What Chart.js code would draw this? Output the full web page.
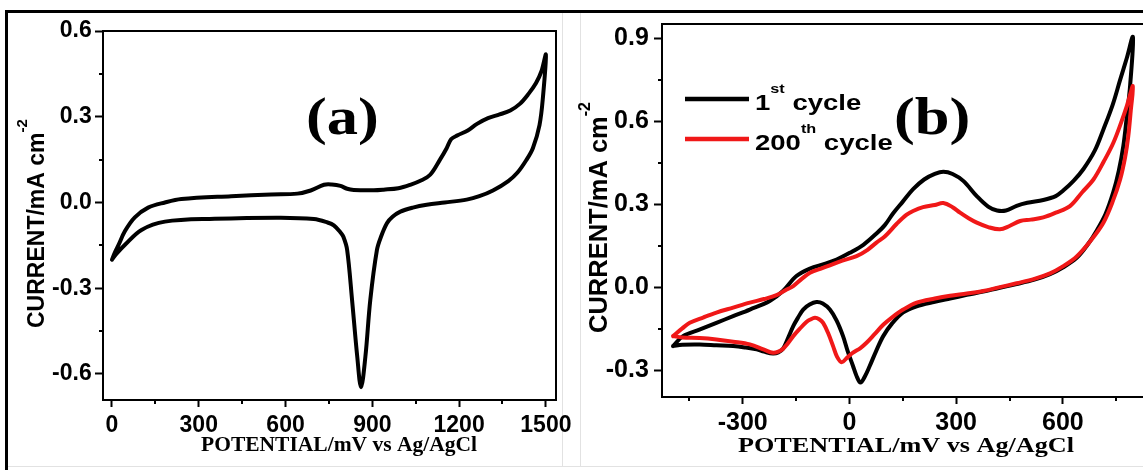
<!DOCTYPE html>
<html>
<head>
<meta charset="utf-8">
<script src="https://cdn.jsdelivr.net/npm/chart.js@4.4.1/dist/chart.umd.min.js"></script>
<style>
  html, body { margin: 0; padding: 0; background: #fff; }
  body { width: 1143px; height: 470px; overflow: hidden; position: relative; }
  canvas { position: absolute; top: 0; }
  #cv-a { left: 0; }
  #cv-b { left: 575px; }
  .rule  { position: absolute; background: #000; }
  .faint { position: absolute; background: #e2e2e2; }
</style>
</head>
<body>
<div class="rule"  style="left:5px;top:10px;width:1138px;height:3px"></div>
<div class="rule"  style="left:5px;top:10px;width:3px;height:460px"></div>
<div class="faint" style="left:562px;top:13px;width:1px;height:453px"></div>
<div class="faint" style="left:580px;top:13px;width:1px;height:453px"></div>
<div class="faint" style="left:8px;top:466px;width:1135px;height:1px"></div>
<canvas id="cv-a" width="580" height="470"></canvas>
<canvas id="cv-b" width="600" height="470"></canvas>
<script>
// ── Data ─────────────────────────────────────────────────────────────────────
const SANS  = '"Liberation Sans", Arial, sans-serif';
const SERIF = '"Liberation Serif", "Times New Roman", serif';

// (a) one CV loop: forward scan 0 → 1500 mV, then back to 0
const potA = [0, 10, 22, 45, 79, 125, 183, 240, 412, 550, 641, 687, 733, 760, 790, 813, 836, 905, 939, 990,
  1031, 1070, 1100, 1134, 1157, 1173, 1195, 1230, 1262, 1300, 1340, 1377, 1410, 1440, 1466, 1485, 1500,
  1490, 1478, 1455, 1432, 1402, 1370, 1317, 1270, 1226, 1150, 1088, 1040, 997, 970, 951, 930, 916, 893, 876, 861,
  848, 830, 813, 800, 790, 767, 745, 698, 584, 355, 183, 102, 45, 15, 0];
const curA = [-0.2, -0.175, -0.15, -0.1, -0.052, -0.018, 0.0, 0.012, 0.022, 0.028, 0.031, 0.042, 0.062, 0.063, 0.058, 0.048, 0.044, 0.043, 0.045, 0.05,
  0.062, 0.078, 0.097, 0.15, 0.19, 0.222, 0.235, 0.252, 0.275, 0.295, 0.308, 0.322, 0.345, 0.38, 0.418, 0.46, 0.517,
  0.37, 0.271, 0.19, 0.148, 0.105, 0.075, 0.042, 0.022, 0.01, 0.0, -0.008, -0.018, -0.032, -0.05, -0.072, -0.12, -0.166, -0.341, -0.54, -0.646,
  -0.54, -0.341, -0.166, -0.12, -0.105, -0.08, -0.07, -0.058, -0.053, -0.057, -0.067, -0.096, -0.148, -0.18, -0.2];

// (b) 1st cycle
const potB1 = [-496, -468, -420, -374, -327, -280, -224, -187, -149, -111, -70, -36, 1, 40, 76, 100, 123, 150, 179, 210,
  240, 264, 290, 320, 358, 390, 415, 440, 470, 500, 545, 580, 601, 630, 658, 690, 714, 740, 761, 780, 797,
  789, 780, 770, 757, 742, 720, 695, 670, 639, 600, 564, 520, 470, 420, 376, 330, 283, 240, 189, 151,
  120, 95, 75, 57, 44, 31, 20, 10, -5, -18, -36, -55, -75, -93, -112, -130, -145, -158, -175, -187,
  -200, -215, -240, -261, -294, -327, -374, -421, -470, -496];
const curB1 = [-0.212, -0.176, -0.152, -0.128, -0.104, -0.08, -0.049, -0.013, 0.041, 0.068, 0.085, 0.101, 0.125, 0.155, 0.195, 0.226, 0.268, 0.31, 0.355, 0.39,
  0.41, 0.418, 0.41, 0.385, 0.33, 0.292, 0.278, 0.278, 0.295, 0.306, 0.316, 0.33, 0.35, 0.385, 0.428, 0.495, 0.571, 0.66, 0.75, 0.83, 0.905,
  0.728, 0.62, 0.511, 0.42, 0.345, 0.265, 0.205, 0.155, 0.107, 0.072, 0.048, 0.028, 0.012, -0.002, -0.015, -0.027, -0.04, -0.052, -0.068, -0.09,
  -0.13, -0.176, -0.23, -0.284, -0.32, -0.344, -0.32, -0.284, -0.23, -0.176, -0.12, -0.08, -0.058, -0.053, -0.062, -0.08, -0.11, -0.14, -0.19, -0.222,
  -0.235, -0.239, -0.232, -0.224, -0.217, -0.212, -0.209, -0.206, -0.207, -0.212];

// (b) 200th cycle
const potB200 = [-496, -470, -449, -410, -374, -327, -280, -240, -205, -180, -158, -135, -111, -80, -55, -20, 20, 50, 76, 100,
  133, 160, 179, 207, 240, 264, 290, 311, 335, 358, 390, 423, 450, 480, 510, 545, 580, 620, 655, 686, 715, 742, 765, 780, 797,
  791, 784, 775, 761, 740, 714, 680, 639, 600, 564, 520, 470, 420, 376, 330, 283, 240, 189, 151, 120,
  95, 70, 48, 30, 10, -5, -22, -35, -46, -60, -74, -85, -97, -110, -121, -140, -158, -175, -187, -200,
  -215, -240, -280, -327, -374, -421, -470, -496];
const curB200 = [-0.176, -0.148, -0.128, -0.108, -0.091, -0.073, -0.055, -0.042, -0.028, -0.01, 0.005, 0.03, 0.053, 0.068, 0.08, 0.097, 0.113, 0.135, 0.162, 0.185,
  0.23, 0.262, 0.276, 0.29, 0.298, 0.305, 0.29, 0.27, 0.25, 0.234, 0.218, 0.21, 0.222, 0.24, 0.245, 0.253, 0.27, 0.294, 0.345, 0.39, 0.455, 0.523, 0.6, 0.656, 0.728,
  0.64, 0.547, 0.47, 0.39, 0.31, 0.234, 0.172, 0.112, 0.076, 0.051, 0.031, 0.015, 0.0, -0.013, -0.022, -0.03, -0.04, -0.055, -0.08, -0.108,
  -0.135, -0.17, -0.2, -0.22, -0.236, -0.252, -0.27, -0.25, -0.212, -0.165, -0.128, -0.115, -0.11, -0.116, -0.125, -0.15, -0.176, -0.205, -0.222, -0.232,
  -0.236, -0.225, -0.206, -0.196, -0.188, -0.183, -0.181, -0.176];

const xTicksA = [0, 300, 600, 900, 1200, 1500];
const xMinorA = [150, 450, 750, 1050, 1350];
const yTicksA = [-0.6, -0.3, 0, 0.3, 0.6];
const yMinorA = [-0.45, -0.15, 0.15, 0.45];

const xTicksB = [-300, 0, 300, 600];
const xMinorB = [-450, -150, 150, 450, 750];
const yTicksB = [-0.3, 0, 0.3, 0.6, 0.9];
const yMinorB = [-0.15, 0.15, 0.45, 0.75];

const cycleNum = ['1', '200'];
const cycleSup = ['st', 'th'];
const cycleCol = ['#000000', '#f01818'];

const xTitle = 'POTENTIAL/mV vs Ag/AgCl';
const yTitle = 'CURRENT/mA cm';

// ── Helpers ──────────────────────────────────────────────────────────────────
const pts = (xs, ys) => xs.map((x, i) => ({ x, y: ys[i] }));

// draws a run of text pieces (for superscripts); rise lifts a piece off the baseline
function richText(ctx, parts, x, y, { angle = 0, sx = 1, align = 'left' } = {}) {
  ctx.save();
  ctx.translate(x, y);
  ctx.rotate(angle);
  ctx.scale(sx, 1);
  ctx.fillStyle = '#000';
  ctx.textBaseline = 'alphabetic';
  ctx.textAlign = 'left';
  let w = 0;
  parts.forEach(p => { ctx.font = p.font; w += ctx.measureText(p.text).width; });
  let cx = align === 'center' ? -w / 2 : 0;
  parts.forEach(p => {
    ctx.font = p.font;
    ctx.fillText(p.text, cx, -(p.rise || 0));
    cx += ctx.measureText(p.text).width;
  });
  ctx.restore();
}

function axis(min, max, ticks, fmt, size, fit, isX, pad) {
  return {
    type: 'linear', min, max, bounds: 'data',
    afterBuildTicks: s => { s.ticks = ticks.map(v => ({ value: v })); },
    afterFit: s => { if (isX) s.height = fit; else s.width = fit; },
    grid: { drawOnChartArea: false, drawTicks: true, tickLength: isX ? 7 : 8, tickWidth: 2, tickColor: '#000' },
    border: { display: true, color: '#000', width: 2 },
    ticks: { color: '#000', padding: pad, maxRotation: 0, autoSkip: false,
             font: { family: SANS, size, weight: 'bold' }, callback: fmt }
  };
}

// frame top/right edges, short minor ticks and the free text of each panel
function decor(xMinor, yMinor, drawText) {
  return {
    id: 'decor',
    afterDraw(chart) {
      const { ctx, chartArea: a, scales: { x, y } } = chart;
      ctx.save();
      ctx.strokeStyle = '#000';
      ctx.lineWidth = 2;
      ctx.beginPath();
      ctx.moveTo(a.left, a.top); ctx.lineTo(a.right, a.top); ctx.lineTo(a.right, a.bottom);
      ctx.stroke();
      ctx.beginPath();
      xMinor.forEach(v => { const px = Math.round(x.getPixelForValue(v)); ctx.moveTo(px, a.bottom); ctx.lineTo(px, a.bottom + 4); });
      yMinor.forEach(v => { const py = Math.round(y.getPixelForValue(v)); ctx.moveTo(a.left, py); ctx.lineTo(a.left - 4, py); });
      ctx.stroke();
      ctx.restore();
      drawText(ctx, chart);
    }
  };
}

const fmtX = v => String(v);
const fmtY = v => v.toFixed(1);
const line = (label, data, color, order) => ({
  label, data, order, showLine: true, borderColor: color, borderWidth: 4,
  pointRadius: 0, tension: 0.35, borderJoinStyle: 'round', borderCapStyle: 'round', fill: false
});
const base = { responsive: false, devicePixelRatio: 1, animation: false, events: [],
               plugins: { legend: { display: false }, tooltip: { enabled: false } } };

// ── Panel (a) ────────────────────────────────────────────────────────────────
new Chart(document.getElementById('cv-a'), {
  type: 'scatter',
  data: { datasets: [line('a', pts(potA, curA), '#000', 0)] },
  options: {
    ...base,
    layout: { padding: { left: 0, top: 31, right: 24, bottom: 10 } },
    scales: {
      x: axis(-31, 1535, xTicksA, fmtX, 23, 60, true, 4.5),
      y: axis(-0.691, 0.6, yTicksA, fmtY, 23, 103, false, 3.3)
    }
  },
  plugins: [decor(xMinorA, yMinorA, ctx => {
    richText(ctx, [{ text: yTitle, font: `bold 23px ${SANS}` },
                   { text: '-2', font: `bold 15px ${SANS}`, rise: 17 }], 44, 328, { angle: -Math.PI / 2 });
    richText(ctx, [{ text: xTitle, font: `bold 21.5px ${SERIF}` }], 339, 451, { align: 'center' });
    richText(ctx, [{ text: '(a)', font: `bold 53px ${SERIF}` }], 306, 134, { sx: 1.18 });
  })]
});

// ── Panel (b) ────────────────────────────────────────────────────────────────
const OX = 575; // left of canvas b on the page
new Chart(document.getElementById('cv-b'), {
  type: 'scatter',
  data: { datasets: [
    line(cycleNum[0] + cycleSup[0] + ' cycle', pts(potB1, curB1), cycleCol[0], 1),
    line(cycleNum[1] + cycleSup[1] + ' cycle', pts(potB200, curB200), cycleCol[1], 0)
  ] },
  options: {
    ...base,
    layout: { padding: { left: 0, top: 24, right: 25, bottom: 13 } },
    scales: {
      x: axis(-527, 845, xTicksB, fmtX, 25, 60, true, 4.5),
      y: axis(-0.396, 0.952, yTicksB, fmtY, 25, 87, false, 5.2)
    }
  },
  plugins: [decor(xMinorB, yMinorB, ctx => {
    richText(ctx, [{ text: yTitle, font: `bold 25.5px ${SANS}` },
                   { text: '-2', font: `bold 16px ${SANS}`, rise: 17 }], 607 - OX, 333, { angle: -Math.PI / 2 });
    richText(ctx, [{ text: xTitle, font: `bold 22px ${SERIF}` }], 906 - OX, 452, { align: 'center', sx: 1.19 });
    richText(ctx, [{ text: '(b)', font: `bold 53px ${SERIF}` }], 894 - OX, 134, { sx: 1.18 });
    // legend
    cycleNum.forEach((n, i) => {
      const ly = 99 + i * 40;
      ctx.save();
      ctx.strokeStyle = cycleCol[i];
      ctx.lineWidth = 4.5;
      ctx.beginPath(); ctx.moveTo(685 - OX, ly); ctx.lineTo(749 - OX, ly); ctx.stroke();
      ctx.restore();
      richText(ctx, [{ text: n, font: `bold 22px ${SANS}` },
                     { text: cycleSup[i], font: `bold 13px ${SANS}`, rise: 17 },
                     { text: ' cycle', font: `bold 22px ${SANS}` }], 755 - OX, ly + 11, { sx: 1.25 });
    });
  })]
});
</script>
</body>
</html>
